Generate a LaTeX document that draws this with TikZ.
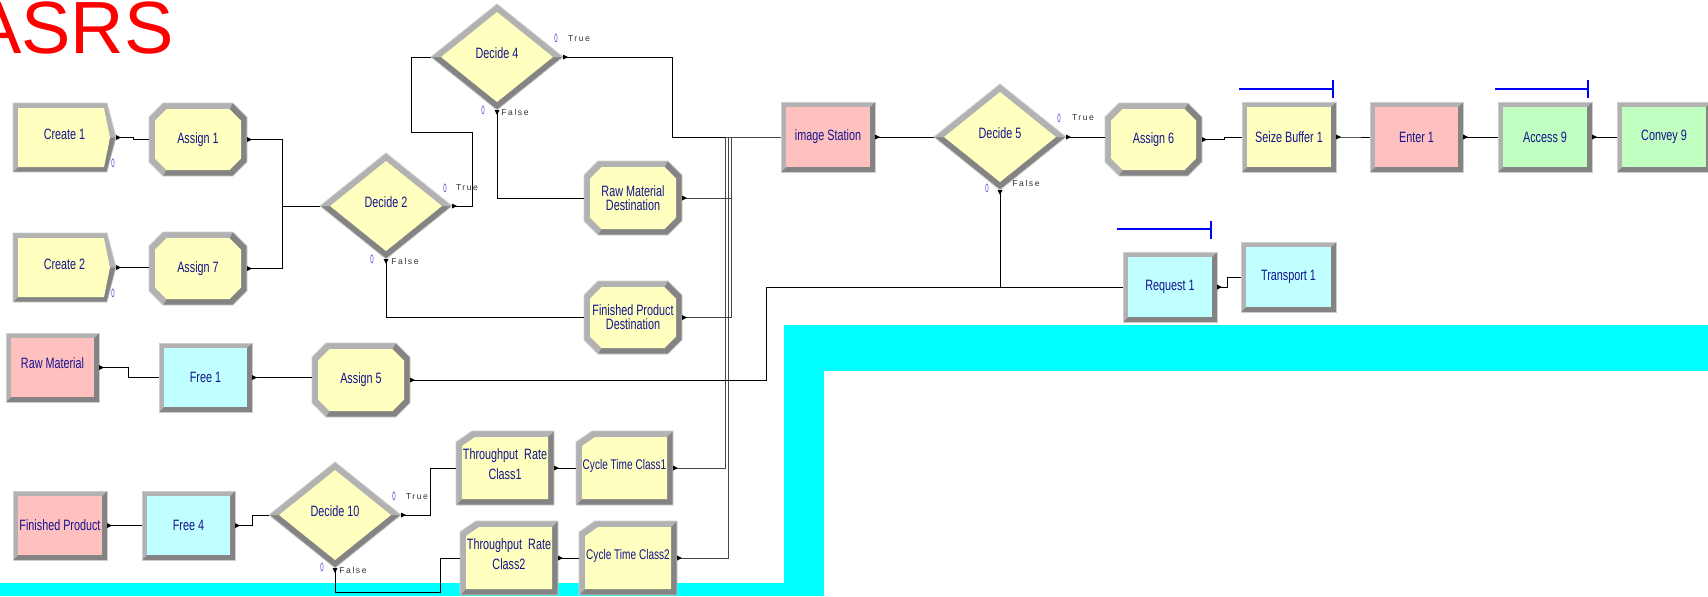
\documentclass[tikz,border=0pt]{standalone}
\usepackage{fontspec}
\setmainfont{Liberation Sans}
\newfontfamily\modfont[FakeStretch=0.72]{Liberation Sans}
\newfontfamily\cntfont[FakeStretch=0.5]{Liberation Sans}
\newfontfamily\lblfont[LetterSpace=18]{Liberation Sans}

\definecolor{modyellow}{RGB}{255,255,192}
\definecolor{modpink}{RGB}{255,192,192}
\definecolor{modcyan}{RGB}{192,255,255}
\definecolor{modgreen}{RGB}{192,255,192}
\definecolor{bevlightc}{RGB}{178,178,178}
\definecolor{bevdarkc}{RGB}{132,132,132}
\definecolor{bevedgec}{RGB}{205,205,205}
\definecolor{textnavy}{RGB}{20,20,140}
\definecolor{cntblue}{RGB}{70,70,200}
\definecolor{bandcyan}{RGB}{0,255,255}
\definecolor{qblue}{RGB}{0,0,255}
\definecolor{lblgray}{RGB}{50,50,50}
\definecolor{busgray}{RGB}{70,70,70}

\tikzset{
  bevlight/.style={fill=bevlightc},
  bevdark/.style={fill=bevdarkc},
  bevedge/.style={draw=bevedgec, line width=0.4pt},
  modbox/.style={inner sep=0pt, outer sep=0pt, text=textnavy, align=center,
    font={\modfont\fontsize{7.5}{7}\selectfont}},
  wire/.style={draw=black, line width=0.5pt},
  buswire/.style={draw=busgray, line width=0.4pt},
  cnt/.style={inner sep=0pt, text=cntblue, font={\cntfont\fontsize{6}{6}\selectfont}},
  branchlbl/.style={inner sep=0pt, text=lblgray, font={\lblfont\fontsize{4.3}{5}\selectfont}},
  qline/.style={draw=qblue, line width=0.6pt},
  band/.style={fill=bandcyan},
  titletext/.style={inner sep=0pt, text=red, font={\fontsize{37}{40}\selectfont}},
  exitr/.pic={\fill[black] (0,-2.5) -- (5,0) -- (0,2.5) -- cycle;},
  exitd/.pic={\fill[black] (-2.5,0) -- (0,5) -- (2.5,0) -- cycle;},
}

% plain bevelled box: name, x0, y0, x1, y1, fill, text
\newcommand\rectmod[7]{%
  \fill[bevdark] (#2,#3) rectangle (#4,#5);
  \fill[bevlight] (#2,#3) -- (#4,#3) -- ({#4-5},{#3+5}) -- ({#2+5},{#3+5}) -- ({#2+5},{#5-5}) -- (#2,#5) -- cycle;
  \fill[#6] ({#2+5},{#3+5}) rectangle ({#4-5},{#5-5});
  \draw[bevedge] (#2,#3) rectangle (#4,#5);
  \node[modbox, minimum width={(#4-#2)*0.5pt}, minimum height={(#5-#3)*0.5pt}] (#1) at ({(#2+#4)/2},{(#3+#5)/2}) {#7};
}

% octagonal (assign / route) box: name, x0, y0, x1, y1, fill, text
\newcommand\octmod[7]{%
  \fill[bevdark] ({#2+14},#3) -- ({#4-14},#3) -- (#4,{#3+14}) -- (#4,{#5-14}) -- ({#4-14},#5) -- ({#2+14},#5) -- (#2,{#5-14}) -- (#2,{#3+14}) -- cycle;
  \fill[bevlight] ({#2+14},#5) -- (#2,{#5-14}) -- (#2,{#3+14}) -- ({#2+14},#3) -- ({#4-14},#3) -- ({#4-17.5},{#3+6}) -- ({#2+17.5},{#3+6}) -- ({#2+6},{#3+17.5}) -- ({#2+6},{#5-17.5}) -- ({#2+17.5},{#5-6}) -- cycle;
  \fill[#6] ({#2+17.5},{#3+6}) -- ({#4-17.5},{#3+6}) -- ({#4-6},{#3+17.5}) -- ({#4-6},{#5-17.5}) -- ({#4-17.5},{#5-6}) -- ({#2+17.5},{#5-6}) -- ({#2+6},{#5-17.5}) -- ({#2+6},{#3+17.5}) -- cycle;
  \draw[bevedge] ({#2+14},#3) -- ({#4-14},#3) -- (#4,{#3+14}) -- (#4,{#5-14}) -- ({#4-14},#5) -- ({#2+14},#5) -- (#2,{#5-14}) -- (#2,{#3+14}) -- cycle;
  \node[modbox, minimum width={(#4-#2)*0.5pt}, minimum height={(#5-#3)*0.5pt}] (#1) at ({(#2+#4)/2},{(#3+#5)/2}) {#7};
}

% record box with a cut top-left corner: name, x0, y0, x1, y1, fill, text
\newcommand\recmod[7]{%
  \fill[bevdark] ({#2+16},#3) -- (#4,#3) -- (#4,#5) -- (#2,#5) -- (#2,{#3+11}) -- cycle;
  \fill[bevlight] (#2,#5) -- (#2,{#3+11}) -- ({#2+16},#3) -- (#4,#3) -- ({#4-6},{#3+6}) -- ({#2+19},{#3+6}) -- ({#2+6},{#3+15}) -- ({#2+6},{#5-6}) -- cycle;
  \fill[#6] ({#2+19},{#3+6}) -- ({#4-6},{#3+6}) -- ({#4-6},{#5-6}) -- ({#2+6},{#5-6}) -- ({#2+6},{#3+15}) -- cycle;
  \draw[bevedge] ({#2+16},#3) -- (#4,#3) -- (#4,#5) -- (#2,#5) -- (#2,{#3+11}) -- cycle;
  \node[modbox, minimum width={(#4-#2)*0.5pt}, minimum height={(#5-#3)*0.5pt}] (#1) at ({(#2+#4)/2},{(#3+#5)/2}) {#7};
}

% create box with a pointed right side: name, x0, y0, x1, xtip, y1, text
\newcommand\createmod[7]{%
  \fill[bevdark] (#2,#3) -- (#4,#3) -- (#5,{(#3+#6)/2}) -- (#4,#6) -- (#2,#6) -- cycle;
  \fill[bevlight] (#2,#6) -- (#2,#3) -- (#4,#3) -- (#5,{(#3+#6)/2}) -- ({#5-6},{(#3+#6)/2}) -- ({#4-3},{#3+5}) -- ({#2+5},{#3+5}) -- ({#2+5},{#6-5}) -- cycle;
  \fill[modyellow] ({#2+5},{#3+5}) -- ({#4-3},{#3+5}) -- ({#5-6},{(#3+#6)/2}) -- ({#4-3},{#6-5}) -- ({#2+5},{#6-5}) -- cycle;
  \draw[bevedge] (#2,#3) -- (#4,#3) -- (#5,{(#3+#6)/2}) -- (#4,#6) -- (#2,#6) -- cycle;
  \node[modbox, minimum width={(#5-#2)*0.5pt}, minimum height={(#6-#3)*0.5pt}] (#1) at ({(#2+#5)/2},{(#3+#6)/2}) {\raisebox{3pt}{#7}};
}

% decision diamond: name, cx, cy, text
\newcommand\decidemod[4]{%
  \fill[bevdark] ({#2-66},#3) -- (#2,{#3-53}) -- ({#2+66},#3) -- (#2,{#3+53}) -- cycle;
  \fill[bevlight] ({#2-66},#3) -- (#2,{#3-53}) -- ({#2+66},#3) -- ({#2+56},#3) -- (#2,{#3-45}) -- ({#2-56},#3) -- cycle;
  \fill[modyellow] ({#2-56},#3) -- (#2,{#3-45}) -- ({#2+56},#3) -- (#2,{#3+45}) -- cycle;
  \draw[bevedge] ({#2-66},#3) -- (#2,{#3-53}) -- ({#2+66},#3) -- (#2,{#3+53}) -- cycle;
  \node[modbox, minimum width=66pt, minimum height=53pt] (#1) at (#2,#3) {\raisebox{4pt}{#4}};
}

\begin{document}
\begin{tikzpicture}[x=0.5pt, y=-0.5pt]
\useasboundingbox (0,0) rectangle (1708,596);

% cyan floor outline
\fill[band] (784,325) rectangle (1708,371);
\fill[band] (784,325) rectangle (824,596);
\fill[band] (0,583) rectangle (824,596);

% title
\node[titletext, anchor=base east] (title) at (174,53) {ASRS};

% modules
\createmod{cr1}{13}{103}{107}{116}{172}{Create 1}
\createmod{cr2}{13}{233}{107}{116}{302}{Create 2}
\octmod{as1}{149}{103}{247}{176}{modyellow}{Assign 1}
\octmod{as7}{149}{232}{247}{305}{modyellow}{Assign 7}
\decidemod{d2}{386}{206}{Decide 2}
\decidemod{d4}{497}{57}{Decide 4}
\octmod{rmd}{584}{161}{682}{235}{modyellow}{Raw Material\\Destination}
\octmod{fpd}{584}{281}{682}{354}{modyellow}{Finished Product\\Destination}
\rectmod{ims}{781}{102}{875}{172}{modpink}{image Station}
\decidemod{d5}{1000}{137}{Decide 5}
\octmod{as6}{1105}{103}{1202}{176}{modyellow}{Assign 6}
\rectmod{sb}{1242}{102}{1336}{172}{modyellow}{Seize Buffer 1}
\rectmod{en}{1370}{102}{1463}{172}{modpink}{Enter 1}
\rectmod{ac}{1498}{102}{1592}{172}{modgreen}{Access 9}
\rectmod{cv}{1617}{102}{1711}{172}{modgreen}{Convey 9}
\rectmod{rq}{1123}{252}{1217}{322}{modcyan}{Request 1}
\rectmod{tr}{1241}{242}{1336}{312}{modcyan}{Transport 1}
\rectmod{rm}{6}{333}{99}{402}{modpink}{\raisebox{4pt}{Raw Material}}
\rectmod{f1}{159}{343}{252}{412}{modcyan}{Free 1}
\octmod{as5}{312}{343}{410}{417}{modyellow}{Assign 5}
\rectmod{fp}{13}{491}{107}{560}{modpink}{Finished Product}
\rectmod{f4}{142}{491}{235}{560}{modcyan}{Free 4}
\decidemod{d10}{335}{515}{Decide 10}
\recmod{tp1}{456}{431}{554}{505}{modyellow}{\raisebox{4pt}{\shortstack{Throughput\ \ Rate\\Class1}}}
\recmod{ct1}{576}{431}{673}{505}{modyellow}{\raisebox{4pt}{\fontsize{7}{7}\selectfont Cycle Time Class1}}
\recmod{tp2}{460}{521}{558}{595}{modyellow}{\raisebox{4pt}{\shortstack{Throughput\ \ Rate\\Class2}}}
\recmod{ct2}{579}{521}{677}{595}{modyellow}{\raisebox{4pt}{\fontsize{7}{7}\selectfont Cycle Time Class2}}

% connections
\draw[wire] (cr1.east) -- ++(17,0) |- (as1.west);
\draw[wire] (cr2.east) -- (cr2.east -| as7.west);
\draw[wire] (as1.east) -- ++(35,0) |- (d2.west);
\draw[wire] (as7.east) -- ++(35,0) |- (d2.west);
\draw[wire] (d2.east) -- ++(20,0) |- (411,132) |- (d4.west);
\draw[wire] (d2.south) |- (fpd.west);
\draw[wire] (d4.south) |- (rmd.west);
\draw[wire] (d4.east) -- ++(109,0) |- (ims.west);
\draw[buswire] (rmd.east) -- ++(49,0) |- (ims.west);
\draw[buswire] (fpd.east) -- ++(49,0) |- (ims.west);
\draw[buswire] (ct1.east) -- ++(52,0) |- (ims.west);
\draw[buswire] (ct2.east) -- ++(51,0) |- (ims.west);
\draw[wire] (ims.east) -- (d5.west);
\draw[wire] (d5.east) -- (d5.east -| as6.west);
\draw[wire] (as6.east) -- ++(22,0) |- (sb.west);
\draw[wire] (sb.east) -- ++(17,0) |- (en.west);
\draw[wire] (en.east) -- (ac.west);
\draw[wire] (ac.east) -- (cv.west);
\draw[wire] (d5.south) |- (rq.west);
\draw[wire] (as5.east) -| (766,287) -- (rq.west);
\draw[wire] (rq.east) -- ++(10,0) |- (tr.west);
\draw[wire] (rm.east) -- ++(29,0) |- (f1.west);
\draw[wire] (f1.east) -- (f1.east -| as5.west);
\draw[wire] (fp.east) -- (f4.west);
\draw[wire] (f4.east) -- ++(17,0) |- (d10.west);
\draw[wire] (d10.east) -- ++(29,0) |- (tp1.west);
\draw[wire] (d10.south) |- (440,592) |- (tp2.west);
\draw[wire] (tp1.east) -- (ct1.west);
\draw[wire] (tp2.east) -- (ct2.west);

% exit points
\foreach \m in {cr1,cr2,as1,as7,d2,d4,rmd,fpd,ims,d5,as6,sb,en,ac,rq,rm,f1,as5,fp,f4,d10,tp1,ct1,tp2,ct2}
  \pic at (\m.east) {exitr};
\foreach \m in {d2,d4,d5,d10}
  \pic at (\m.south) {exitd};

% queue lines
\draw[qline] (1239,89) -- (1333,89);
\draw[qline] (1333,80) -- (1333,98);
\draw[qline] (1495,89) -- (1588,89);
\draw[qline] (1588,80) -- (1588,98);
\draw[qline] (1117,229) -- (1211,229);
\draw[qline] (1211,221) -- (1211,239);

% counters
\node[cnt] (cr1-n) at (113,163) {0};
\node[cnt] (cr2-n) at (113,293) {0};
\node[cnt] (d2-tn) at (445,188) {0};
\node[cnt] (d2-fn) at (372,259) {0};
\node[cnt] (d4-tn) at (556,38) {0};
\node[cnt] (d4-fn) at (483,110) {0};
\node[cnt] (d5-tn) at (1059,118) {0};
\node[cnt] (d5-fn) at (987,188) {0};
\node[cnt] (d10-tn) at (394,496) {0};
\node[cnt] (d10-fn) at (322,567) {0};

% branch labels
\node[branchlbl] (d2-t) at (467,188) {True};
\node[branchlbl] (d2-f) at (405,261) {False};
\node[branchlbl] (d4-t) at (579,39) {True};
\node[branchlbl] (d4-f) at (515,112) {False};
\node[branchlbl] (d5-t) at (1083,118) {True};
\node[branchlbl] (d5-f) at (1026,183) {False};
\node[branchlbl] (d10-t) at (417,497) {True};
\node[branchlbl] (d10-f) at (353,570) {False};
\end{tikzpicture}
\end{document}
